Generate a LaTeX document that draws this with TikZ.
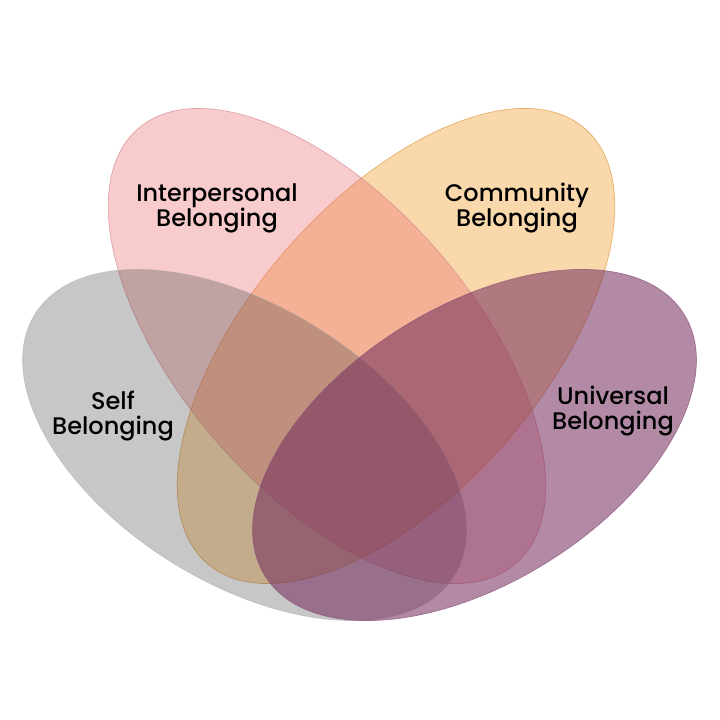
\documentclass[tikz,border=0pt]{standalone}
\usepackage{fontspec}
\setmainfont{Poppins Medium}
\definecolor{cOrange}{RGB}{243,179,89}
\definecolor{cOrangeLine}{RGB}{226,160,80}
\definecolor{cPink}{RGB}{234,102,108}
\definecolor{cPinkLine}{RGB}{215,140,145}
\definecolor{cGray}{RGB}{68,68,68}
\definecolor{cGrayLine}{RGB}{170,170,170}
\definecolor{cPurple}{RGB}{115,42,91}
\definecolor{cPurpleLine}{RGB}{140,80,120}
\tikzset{
  petal/.style={line width=0.35pt},
  lbl/.style={align=center, text=black, font=\fontsize{12}{12.5}\selectfont, inner sep=0pt}
}
\begin{document}
\begin{tikzpicture}[x=0.5pt,y=0.5pt]
\useasboundingbox (0,0) rectangle (720,720);
% Community (bottom layer)
\path[petal, fill=cOrange, fill opacity=0.5, draw=cOrangeLine, draw opacity=0.8, rotate around={49:(396,374)}]
  (396,374) ellipse [x radius=288, y radius=146];
% Interpersonal
\path[petal, fill=cPink, fill opacity=0.34, draw=cPinkLine, draw opacity=0.7, rotate around={-49:(327,374)}]
  (327,374) ellipse [x radius=288, y radius=146];
% Self
\path[petal, fill=cGray, fill opacity=0.3, draw=cGrayLine, draw opacity=0.5, rotate around={-32:(244.5,275)}]
  (244.5,275) ellipse [x radius=247, y radius=138];
% Universal
\path[petal, fill=cPurple, fill opacity=0.55, draw=cPurpleLine, draw opacity=0.7, rotate around={32:(474.5,275)}]
  (474.5,275) ellipse [x radius=247, y radius=138];
% labels
\node[lbl] (interp) at (217,512) {Interpersonal\\Belonging};
\node[lbl] (comm) at (517,512) {Community\\Belonging};
\node[lbl] (self) at (113,304) {Self\\Belonging};
\node[lbl] (univ) at (613,309) {Universal\\Belonging};
\end{tikzpicture}
\end{document}
